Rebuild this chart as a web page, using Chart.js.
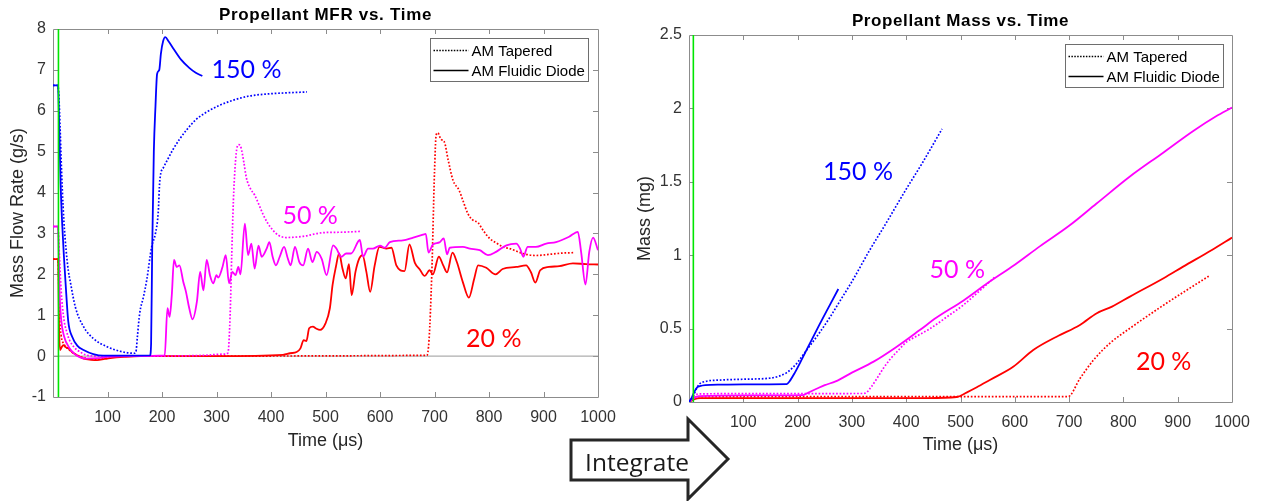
<!DOCTYPE html>
<html>
<head>
<meta charset="utf-8">
<title>Propellant MFR and Mass vs. Time</title>
<script src="https://cdn.jsdelivr.net/npm/chart.js@4.4.1/dist/chart.umd.min.js"></script>
<style>
  html, body { margin: 0; padding: 0; background: #ffffff; }
  body { width: 1262px; height: 501px; position: relative; overflow: hidden; }
  #mfrBox  { position: absolute; left: 0;     top: 0; width: 620px; height: 470px; }
  #massBox { position: absolute; left: 620px; top: 0; width: 642px; height: 470px; }
  #arrow   { position: absolute; left: 0; top: 0; pointer-events: none; }
</style>
</head>
<body>
<div id="mfrBox"><canvas id="mfr"></canvas></div>
<div id="massBox"><canvas id="mass"></canvas></div>
<svg id="arrow" width="1262" height="501" xmlns="http://www.w3.org/2000/svg">
  <polygon points="571,440 688,440 688,419 728,459 688,499 688,480 571,480"
           fill="#ffffff" stroke="#262626" stroke-width="3" stroke-linejoin="miter"/>
  <text x="637" y="461" text-anchor="middle" dominant-baseline="central"
        font-family="'Open Sans', 'Liberation Sans', sans-serif" font-size="24.5" fill="#1a1a1a">Integrate</text>
</svg>
<script>
// ---- axis ranges and labels ----
const timeRange = [0, 1000];
const timeStep = 100;
const mfrRange = [-1, 8];
const mfrStep = 1;
const massRange = [0, 2.5];
const massStep = 0.5;
const legendLabels = ['AM Tapered', 'AM Fluidic Diode'];
const caseLabels = ['150 %', '50 %', '20 %'];
const markerTimeMfr = 10;   // valve-open marker (µs)
const markerTimeMass = 8;

// ---- propellant mass flow rate, [time µs, g/s] ----
const mfrDiode150 = [[0,6.62],[9,6.62],[10,6.4],[12,5.3],[14,4.2],[17,3.2],[20,2.45],[23,1.8],[28,0.85],[35,0.48],[45,0.25],[56,0.15],[74,0.05],[92,0.01],[130,0.01],[178,0.02],[180,0.3],[182,2.6],[185,5.0],[188,6.1],[191,6.9],[195,7.0],[198,7.4],[202,7.7],[206,7.8],[212,7.7],[222,7.5],[235,7.25],[250,7.05],[262,6.93],[274,6.85]];
const mfrTapered150 = [[0,6.62],[9,6.62],[11,6.3],[13,5.6],[15,4.8],[17,4.1],[20,3.3],[24,2.6],[28,2.1],[32,1.8],[41,1.2],[56,0.72],[74,0.43],[99,0.23],[123,0.12],[148,0.07],[152,0.1],[155,0.5],[159,1.04],[166,1.45],[172,1.86],[181,2.67],[188,3.0],[193,3.5],[196,4.3],[203,4.62],[210,4.8],[220,5.05],[232,5.3],[245,5.53],[262,5.78],[282,5.97],[305,6.13],[331,6.26],[360,6.36],[392,6.41],[430,6.44],[466,6.46]];
const mfrDiode50 = [[0,3.17],[9,3.17],[10,2.9],[12,1.6],[15,0.9],[20,0.5],[30,0.2],[40,0.05],[50,-0.03],[60,-0.06],[80,-0.05],[100,-0.02],[150,0],[205,0.02],[210,1.17],[214,0.96],[218,1.5],[222,2.35],[227,2.18],[232,2.22],[239,1.82],[244,1.57],[250,1.17],[256,0.9],[264,1.33],[270,2.06],[276,1.61],[282,2.35],[288,1.98],[294,1.78],[300,1.98],[303,1.92],[311,2.18],[317,2.47],[323,1.78],[329,2.06],[335,1.98],[340,2.18],[344,2.0],[352,3.24],[358,2.47],[364,2.75],[370,2.14],[377,2.7],[383,2.43],[392,2.63],[397,2.79],[403,2.43],[409,2.22],[416,2.43],[424,2.67],[431,2.38],[436,2.22],[444,2.67],[452,2.3],[459,2.22],[468,2.63],[476,2.3],[484,2.55],[493,2.38],[502,1.98],[514,2.71],[520,2.63],[529,2.43],[538,2.51],[547,2.51],[563,2.84],[569,2.43],[578,2.63],[587,2.63],[600,2.7],[609,2.65],[618,2.79],[642,2.83],[661,2.9],[679,2.97],[684,2.99],[689,2.53],[697,2.73],[709,2.78],[717,2.88],[723,2.49],[728,2.65],[752,2.67],[765,2.63],[783,2.59],[798,2.47],[813,2.55],[832,2.71],[850,2.75],[857,2.63],[863,2.43],[871,2.67],[886,2.67],[905,2.75],[923,2.79],[947,2.92],[963,3.04],[969,2.55],[977,1.75],[984,2.55],[991,2.9],[1000,2.59]];
const mfrTapered50 = [[0,3.17],[9,3.17],[10,3.0],[12,2.4],[15,1.6],[20,0.9],[25,0.6],[30,0.4],[40,0.2],[50,0.1],[60,0.03],[80,0],[150,0],[280,0.02],[300,0.04],[315,0.05],[321,0.08],[325,1.0],[328,2.5],[331,3.8],[334,4.6],[337,5.05],[341,5.17],[345,5.1],[350,4.75],[355,4.35],[362,4.1],[370,3.94],[378,3.7],[386,3.45],[394,3.25],[401,3.12],[413,2.96],[428,2.9],[459,2.93],[496,3.02],[530,3.03],[563,3.05]];
const mfrDiode20 = [[0,2.37],[9,2.37],[10,2.0],[11,0.8],[13,0.15],[16,0.22],[19,0.27],[23,0.22],[29,0.18],[35,0.1],[44,0.02],[56,-0.06],[70,-0.09],[81,-0.1],[95,-0.07],[105,-0.05],[130,-0.02],[160,0],[300,0],[422,0.03],[435,0.07],[447,0.1],[454,0.19],[460,0.39],[465,0.37],[470,0.68],[477,0.72],[482,0.68],[490,0.64],[500,0.8],[508,1.17],[513,1.74],[519,2.18],[525,2.51],[531,2.15],[537,1.9],[543,2.25],[548,1.49],[555,2.06],[562,2.39],[568,2.47],[575,2.06],[582,1.57],[590,2.2],[599,2.67],[612,2.63],[621,2.65],[630,2.22],[645,2.08],[654,2.73],[664,2.28],[673,2.12],[682,1.96],[691,2.1],[697,2.0],[708,2.43],[716,2.22],[723,2.05],[733,2.53],[741,2.3],[752,1.81],[763,1.43],[773,1.9],[780,2.22],[795,2.16],[812,2.0],[825,2.13],[850,2.18],[868,2.22],[877,2.05],[885,1.8],[894,2.1],[910,2.18],[929,2.2],[954,2.27],[978,2.25],[1000,2.24]];
const mfrTapered20 = [[0,2.37],[9,2.37],[10,2.1],[12,1.0],[15,0.5],[20,0.3],[30,0.15],[40,0.05],[60,-0.05],[80,-0.08],[100,-0.03],[150,0],[686,0.02],[690,0.4],[695,2.0],[700,4.5],[703,5.4],[706,5.46],[712,5.3],[718,5.24],[725,4.8],[734,4.3],[745,4.06],[752,3.81],[761,3.49],[770,3.33],[780,3.26],[789,3.08],[801,2.88],[813,2.77],[828,2.66],[838,2.63],[862,2.51],[886,2.46],[911,2.49],[935,2.52],[955,2.53]];

// ---- integrated propellant mass, [time µs, mg] ----
const massDiode150 = [[0,0],[5,0.03],[10,0.07],[15,0.1],[20,0.108],[30,0.115],[60,0.118],[100,0.12],[180,0.122],[185,0.14],[195,0.2],[205,0.27],[220,0.38],[240,0.525],[260,0.665],[275,0.77]];
const massTapered150 = [[0,0],[5,0.02],[10,0.06],[15,0.1],[20,0.125],[30,0.14],[60,0.15],[100,0.155],[150,0.163],[165,0.175],[180,0.2],[190,0.23],[200,0.27],[210,0.32],[220,0.37],[240,0.47],[260,0.58],[280,0.7],[300,0.82],[333,1.036],[360,1.2],[400,1.45],[430,1.63],[466,1.86]];
const massDiode50 = [[0,0],[10,0.03],[20,0.04],[100,0.045],[210,0.047],[220,0.065],[235,0.09],[250,0.115],[270,0.14],[300,0.2],[340,0.275],[380,0.37],[425,0.49],[456,0.575],[505,0.69],[550,0.81],[600,0.935],[646,1.06],[700,1.2],[750,1.35],[812,1.536],[870,1.69],[930,1.85],[970,1.945],[1000,2.006]];
const massTapered50 = [[0,0],[10,0.045],[20,0.055],[100,0.057],[320,0.058],[327,0.065],[335,0.1],[346,0.16],[358,0.23],[370,0.29],[385,0.35],[401,0.41],[420,0.45],[444,0.5],[475,0.58],[505,0.66],[530,0.74],[557,0.83],[563,0.85]];
const massDiode20 = [[0,0],[10,0.02],[20,0.027],[100,0.027],[440,0.027],[493,0.034],[511,0.064],[530,0.1],[554,0.15],[597,0.24],[634,0.354],[677,0.445],[720,0.525],[751,0.605],[779,0.65],[812,0.718],[874,0.843],[910,0.922],[963,1.036],[1000,1.12]];
const massTapered20 = [[0,0],[10,0.03],[20,0.037],[100,0.037],[698,0.037],[720,0.16],[745,0.286],[775,0.4],[812,0.502],[874,0.66],[917,0.763],[958,0.859]];

// ---- styling ----
const BLUE = '#0000ff', MAGENTA = '#ff00ff', RED = '#ff0000', GREEN = '#00e600';
const FONT = "'Liberation Sans', Arial, Helvetica, sans-serif";
const CASE_FONT = "'Lato', 'Open Sans', sans-serif";

function series(points, color, dotted) {
  return {
    data: points.map(([x, y]) => ({ x, y })),
    borderColor: color,
    borderWidth: dotted ? 1.7 : 1.8,
    borderDash: dotted ? [1.7, 1.8] : [],
    borderCapStyle: 'butt',
    pointRadius: 0,
    fill: false,
    cubicInterpolationMode: 'monotone'
  };
}
function vline(t, range, color) {
  return { data: [{ x: t, y: range[0] }, { x: t, y: range[1] }], borderColor: color, borderWidth: 1.6, pointRadius: 0, fill: false };
}

// axes frame with inward tick marks, drawn beneath the data
const framePlugin = {
  id: 'frame',
  beforeDatasetsDraw(chart) {
    const { ctx, chartArea: a, scales: { x, y } } = chart;
    ctx.save();
    ctx.strokeStyle = '#8c8c8c';
    ctx.lineWidth = 1;
    ctx.beginPath();
    ctx.rect(Math.round(a.left) + 0.5, Math.round(a.top) + 0.5, Math.round(a.right - a.left), Math.round(a.bottom - a.top));
    const L = 5;
    x.ticks.forEach(t => {
      const p = Math.round(x.getPixelForValue(t.value)) + 0.5;
      if (p <= a.left + 1 || p >= a.right - 1) return;
      ctx.moveTo(p, a.bottom); ctx.lineTo(p, a.bottom - L);
      ctx.moveTo(p, a.top);    ctx.lineTo(p, a.top + L);
    });
    y.ticks.forEach(t => {
      const p = Math.round(y.getPixelForValue(t.value)) + 0.5;
      if (p <= a.top + 1 || p >= a.bottom - 1) return;
      ctx.moveTo(a.left, p);  ctx.lineTo(a.left + L, p);
      ctx.moveTo(a.right, p); ctx.lineTo(a.right - L, p);
    });
    ctx.stroke();
    ctx.restore();
  }
};

// plot title centred over the plotting area
const titlePlugin = {
  id: 'plotTitle',
  afterDraw(chart, args, opts) {
    const { ctx, chartArea: a } = chart;
    ctx.save();
    ctx.font = 'bold 17px ' + FONT;
    ctx.letterSpacing = opts.spacing;
    ctx.textAlign = 'center';
    ctx.textBaseline = 'middle';
    ctx.fillStyle = '#000000';
    ctx.fillText(opts.text, (a.left + a.right) / 2, opts.y);
    ctx.restore();
  }
};

// line-style key in the upper right of the plot
const keyPlugin = {
  id: 'keyBox',
  afterDraw(chart, args, opts) {
    const { ctx, chartArea: a } = chart;
    const w = opts.width, h = opts.height;
    const left = Math.round(a.right - opts.right - w) + 0.5;
    const top = Math.round(a.top + opts.top) + 0.5;
    ctx.save();
    ctx.fillStyle = '#ffffff';
    ctx.fillRect(left, top, w, h);
    ctx.strokeStyle = '#6e6e6e';
    ctx.lineWidth = 1;
    ctx.strokeRect(left, top, w, h);
    ctx.font = '15px ' + FONT;
    ctx.textBaseline = 'middle';
    ctx.fillStyle = '#000000';
    legendLabels.forEach((label, i) => {
      const yy = top + 12 + i * 20;
      ctx.beginPath();
      ctx.strokeStyle = '#000000';
      ctx.lineWidth = i === 0 ? 1.5 : 1.7;
      ctx.setLineDash(i === 0 ? [1.5, 1.4] : []);
      ctx.moveTo(left + 3, yy);
      ctx.lineTo(left + 38, yy);
      ctx.stroke();
      ctx.setLineDash([]);
      ctx.fillText(label, left + 41, yy + 1);
    });
    ctx.restore();
  }
};

// case annotations (percent of nominal), placed in data coordinates
const casePlugin = {
  id: 'caseText',
  afterDatasetsDraw(chart, args, opts) {
    const { ctx, scales: { x, y } } = chart;
    ctx.save();
    ctx.font = '25px ' + CASE_FONT;
    ctx.textAlign = 'left';
    ctx.textBaseline = 'middle';
    opts.items.forEach(it => {
      ctx.fillStyle = it.color;
      ctx.fillText(it.text, x.getPixelForValue(it.x), y.getPixelForValue(it.y));
    });
    ctx.restore();
  }
};

function baseOptions(cfg) {
  return {
    responsive: true,
    maintainAspectRatio: false,
    animation: false,
    events: [],
    layout: { padding: { left: 0, right: cfg.padRight, top: cfg.padTop, bottom: 0 } },
    plugins: {
      legend: { display: false },
      tooltip: { enabled: false },
      title: { display: false },
      plotTitle: { text: cfg.title, y: cfg.titleY, spacing: cfg.titleSpacing },
      keyBox: { width: 158, height: 43, right: cfg.keyRight, top: 9 },
      caseText: { items: cfg.cases }
    },
    scales: {
      x: {
        type: 'linear',
        min: timeRange[0], max: timeRange[1],
        grid: { display: false, drawTicks: false },
        border: { display: false },
        ticks: {
          stepSize: timeStep, color: '#333333', padding: 11,
          font: { family: FONT, size: 16 },
          maxRotation: 0,
          callback: v => (v === 0 ? '' : String(v))
        },
        title: {
          display: true, text: 'Time (\u03bcs)', color: '#262626',
          font: { family: FONT, size: 18 }, padding: { top: 0, bottom: cfg.xTitlePad }
        },
        // fixed axis band; the end labels may overhang the plot edge
        afterFit: s => { s.height = cfg.xHeight; s.paddingLeft = 0; s.paddingRight = 0; }
      },
      y: {
        type: 'linear',
        min: cfg.yRange[0], max: cfg.yRange[1],
        grid: { display: false, drawTicks: false },
        border: { display: false },
        ticks: {
          stepSize: cfg.yStep, color: '#333333', padding: 7,
          font: { family: FONT, size: 16 },
          callback: v => String(v)
        },
        title: {
          display: true, text: cfg.yTitle, color: '#262626',
          font: { family: FONT, size: 18 }, padding: { top: cfg.yTitlePad, bottom: 0 }
        },
        afterFit: s => { s.width = cfg.yWidth; }
      }
    }
  };
}

new Chart(document.getElementById('mfr'), {
  type: 'line',
  data: {
    datasets: [
      vline(markerTimeMfr, mfrRange, GREEN),
      series(mfrDiode150, BLUE, false),
      series(mfrTapered150, BLUE, true),
      series(mfrDiode50, MAGENTA, false),
      series(mfrTapered50, MAGENTA, true),
      series(mfrDiode20, RED, false),
      series(mfrTapered20, RED, true),
      { data: [{ x: timeRange[0], y: 0 }, { x: timeRange[1], y: 0 }], borderColor: '#9a9a9a', borderWidth: 1, pointRadius: 0 }
    ]
  },
  options: baseOptions({
    title: 'Propellant MFR vs. Time', titleY: 15, titleSpacing: '0.7px',
    padTop: 29, padRight: 22, keyRight: 10,
    xHeight: 73, xTitlePad: 18,
    yWidth: 53, yTitlePad: 7,
    yRange: mfrRange, yStep: mfrStep,
    yTitle: 'Mass Flow Rate (g/s)',
    cases: [
      { text: caseLabels[0], x: 291, y: 7.0, color: BLUE },
      { text: caseLabels[1], x: 421, y: 3.42, color: MAGENTA },
      { text: caseLabels[2], x: 758, y: 0.43, color: RED }
    ]
  }),
  plugins: [framePlugin, titlePlugin, keyPlugin, casePlugin]
});

new Chart(document.getElementById('mass'), {
  type: 'line',
  data: {
    datasets: [
      vline(markerTimeMass, massRange, GREEN),
      series(massDiode150, BLUE, false),
      series(massTapered150, BLUE, true),
      series(massDiode50, MAGENTA, false),
      series(massTapered50, MAGENTA, true),
      series(massDiode20, RED, false),
      series(massTapered20, RED, true)
    ]
  },
  options: baseOptions({
    title: 'Propellant Mass vs. Time', titleY: 21, titleSpacing: '0.6px',
    padTop: 35, padRight: 30, keyRight: 9,
    xHeight: 68, xTitlePad: 14,
    yWidth: 69, yTitlePad: 14,
    yRange: massRange, yStep: massStep,
    yTitle: 'Mass (mg)',
    cases: [
      { text: caseLabels[0], x: 247, y: 1.57, color: BLUE },
      { text: caseLabels[1], x: 443, y: 0.9, color: MAGENTA },
      { text: caseLabels[2], x: 823, y: 0.275, color: RED }
    ]
  }),
  plugins: [framePlugin, titlePlugin, keyPlugin, casePlugin]
});
</script>
</body>
</html>
